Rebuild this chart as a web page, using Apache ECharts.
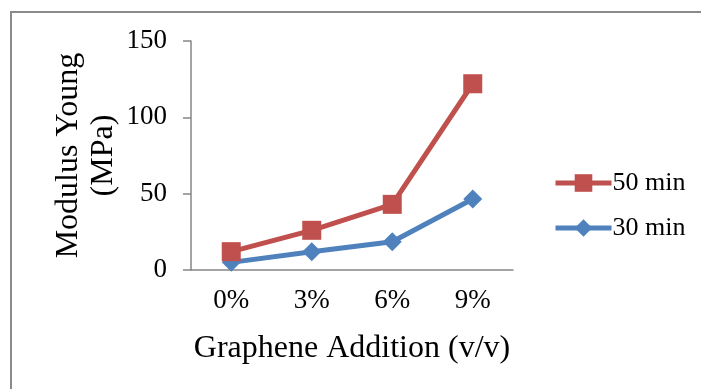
<!DOCTYPE html>
<html>
<head>
<meta charset="utf-8">
<script src="https://cdn.jsdelivr.net/npm/echarts@6/dist/echarts.min.js"></script>
<style>html,body{margin:0;padding:0;background:#fff}#c{width:701px;height:389px}</style>
</head>
<body>
<div id="c"></div>
<script>
const categories = ['0%', '3%', '6%', '9%'];
const seriesNames = ['50 min', '30 min'];
const values50 = [12, 26, 43, 122];
const values30 = [5, 12, 18.5, 46.5];
const yTicks = { min: 0, max: 150, interval: 50 };

const FONT = '"Liberation Serif", "Times New Roman", serif';
const chart = echarts.init(document.getElementById('c'), null, { renderer: 'canvas' });
chart.setOption({
  animation: false,
  backgroundColor: '#fff',
  graphic: [{
    type: 'polyline',
    shape: { points: [[11, 389], [11, 12], [701, 12]] },
    style: { stroke: '#8a8a8a', lineWidth: 2, fill: null }
  }],
  grid: { left: 191, right: 188, top: 41, bottom: 119 },
  legend: {
    data: seriesNames,
    orient: 'vertical',
    left: 553,
    top: 170,
    padding: 0,
    itemWidth: 56,
    itemHeight: 22,
    itemGap: 19,
    lineStyle: { width: 5 },
    textStyle: { fontFamily: FONT, fontSize: 26, color: '#000', padding: [0, 0, 0, -4] }
  },
  xAxis: {
    type: 'category',
    data: categories,
    boundaryGap: true,
    name: 'Graphene Addition (v/v)',
    nameLocation: 'middle',
    nameGap: 63,
    nameTextStyle: { fontFamily: FONT, fontSize: 32, color: '#000' },
    axisLine: { lineStyle: { color: '#868686', width: 1.5 } },
    axisTick: { show: false },
    axisLabel: { fontFamily: FONT, fontSize: 27, color: '#000', margin: 17 },
    splitLine: { show: false }
  },
  yAxis: {
    type: 'value',
    min: yTicks.min,
    max: yTicks.max,
    interval: yTicks.interval,
    name: 'Modulus Young\n(MPa)',
    nameLocation: 'middle',
    nameGap: 70,
    nameTextStyle: { fontFamily: FONT, fontSize: 32, color: '#000', lineHeight: 35 },
    axisLine: { show: true, lineStyle: { color: '#868686', width: 1.5 } },
    axisTick: { show: true, length: 8, lineStyle: { color: '#868686', width: 1.5 } },
    axisLabel: { fontFamily: FONT, fontSize: 27, color: '#000', margin: 24 },
    splitLine: { show: false }
  },
  series: [
    {
      name: '30 min',
      type: 'line',
      data: values30,
      symbol: 'diamond',
      symbolSize: [19, 19],
      itemStyle: { color: '#4F81BD' },
      lineStyle: { color: '#4F81BD', width: 5 },
      z: 2
    },
    {
      name: '50 min',
      type: 'line',
      data: values50,
      symbol: 'rect',
      symbolSize: 19,
      itemStyle: { color: '#C0504D' },
      lineStyle: { color: '#C0504D', width: 5 },
      z: 3
    }
  ]
});
</script>
</body>
</html>
